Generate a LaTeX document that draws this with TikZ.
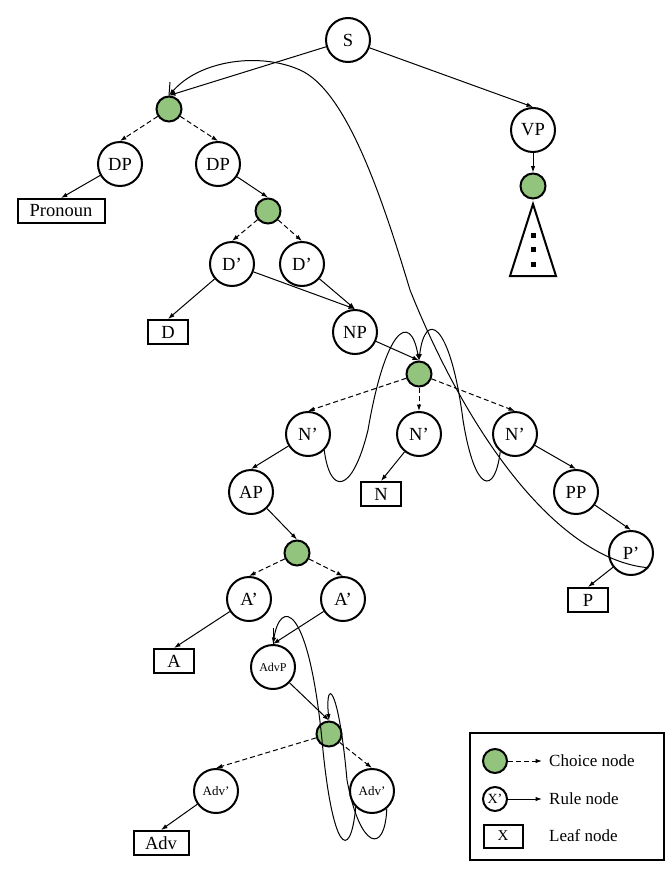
\documentclass[tikz,border=0pt]{standalone}
\usepackage{fontspec}
\setmainfont{Liberation Serif}
\usetikzlibrary{arrows, arrows.meta, positioning}
\definecolor{choicegreen}{RGB}{147,196,125}
\tikzstyle{rulenode} = [draw, circle, line width=2pt, minimum size=44pt, inner sep=0pt, font=\fontsize{18.5}{20}\selectfont]
\tikzstyle{smallrule} = [rulenode, font=\fontsize{13}{14}\selectfont]
\tikzstyle{choicenode} = [draw, circle, fill=choicegreen, line width=2pt, minimum size=25pt, inner sep=0pt]
\tikzstyle{leafnode} = [draw, rectangle, line width=2pt, minimum width=40pt, minimum height=24pt, inner sep=0pt, font=\fontsize{18.5}{20}\selectfont]
\tikzstyle{link} = [line width=1pt, -{Latex[length=6.5pt,width=4.5pt]}]
\tikzstyle{choicelink} = [link, dash pattern=on 5pt off 3pt]
\tikzstyle{backlink} = [line width=1pt]
\tikzstyle{legendtext} = [anchor=west, inner sep=0pt, font=\fontsize{17}{18}\selectfont]

\begin{document}
\begin{tikzpicture}[x=1pt, y=-1pt]
	\useasboundingbox (0,0) rectangle (671,873);
	% upper part
	\node[rulenode] (s) at (348,40) {S};
	\node[choicenode] (ch1) at (169,109) {};
	\node[rulenode] (dp1) at (120,164) {DP};
	\node[rulenode] (dp2) at (218,164) {DP};
	\node[leafnode, minimum width=87pt] (pron) at (61,211) {Pronoun};
	\node[choicenode] (ch2) at (268,211) {};
	\node[rulenode] (dbar1) at (232,264) {D’};
	\node[rulenode] (dbar2) at (302,264) {D’};
	\node[leafnode] (dleaf) at (168,332) {D};
	\node[rulenode] (np) at (355,332) {NP};
	\node[rulenode] (vp) at (533,130) {VP};
	\node[choicenode] (ch6) at (533,186) {};
	\draw[line width=2pt] (510,276) -- (533,204) -- (556,276) -- cycle;
	\foreach \y in {235,249,264}
		\fill (530.5,\y-2.5) rectangle (535.5,\y+2.5);
	% noun phrase
	\node[choicenode] (ch3) at (419,374) {};
	\node[rulenode] (nbar1) at (308,434) {N’};
	\node[rulenode] (nbar2) at (419,434) {N’};
	\node[rulenode] (nbar3) at (515,434) {N’};
	\node[leafnode] (nleaf) at (381,494) {N};
	\node[rulenode] (ap) at (251,492) {AP};
	\node[rulenode] (pp) at (576,492) {PP};
	\node[rulenode] (pbar) at (631,553) {P’};
	\node[leafnode] (pleaf) at (588,600) {P};
	\node[choicenode] (ch4) at (297,553) {};
	\node[rulenode] (abar1) at (249,599) {A’};
	\node[rulenode] (abar2) at (343,599) {A’};
	\node[leafnode] (aleaf) at (174,661) {A};
	\node[smallrule, font=\fontsize{12}{13}\selectfont] (advp) at (273,667) {AdvP};
	\node[choicenode] (ch5) at (329,734) {};
	\node[smallrule] (advbar1) at (216,791) {Adv’};
	\node[smallrule] (advbar2) at (372,791) {Adv’};
	\node[leafnode, minimum width=55pt] (advleaf) at (161,843) {Adv};

	\draw[link] (s) -- (ch1.north);
	\draw[link] (s) -- (vp.north);
	\draw[link] (vp) -- (ch6.north);
	\draw[choicelink] (ch1) -- (dp1.north);
	\draw[choicelink] (ch1) -- (dp2.north);
	\draw[link] (dp1) -- (pron.north);
	\draw[link] (dp2) -- (ch2.north);
	\draw[choicelink] (ch2) -- (dbar1.north);
	\draw[choicelink] (ch2) -- (dbar2.north);
	\draw[link] (dbar1) -- (dleaf.north);
	\draw[link] (dbar1) -- (np.north);
	\draw[link] (dbar2) -- (np.north);
	\draw[link] (np) -- (ch3.north);
	\draw[choicelink] (ch3) -- (nbar1.north);
	\draw[choicelink] (ch3) -- (nbar2.north);
	\draw[choicelink] (ch3) -- (nbar3.north);
	\draw[link] (nbar1) -- (ap.north);
	\draw[link] (nbar2) -- (nleaf.north);
	\draw[link] (nbar3) -- (pp.north);
	\draw[link] (pp) -- (pbar.north);
	\draw[link] (pbar) -- (pleaf.north);
	\draw[link] (ap) -- (ch4.north);
	\draw[choicelink] (ch4) -- (abar1.north);
	\draw[choicelink] (ch4) -- (abar2.north);
	\draw[link] (abar1) -- (aleaf.north);
	\draw[link] (abar2) -- (advp.north);
	\draw[link] (advp) -- (ch5.north);
	\draw[choicelink] (ch5) -- (advbar1.north);
	\draw[choicelink] (ch5) -- (advbar2.north);
	\draw[link] (advbar1) -- (advleaf.north);

	% recursion curves
	\coordinate (tick1) at (170,82);
	\coordinate (tick2) at (273,628);
	\draw[backlink] (tick1) -- (ch1.north);
	\draw[backlink] (tick2) -- (advp.north);
	\draw[link] (pbar.-40) .. controls (560,560) and (470,440) .. (410,290)
		.. controls (380,190) and (345,90) .. (300,70)
		.. controls (260,52) and (200,60) .. (ch1.north);
	\draw[link] (nbar1.-45) .. controls (330,495) and (352,495) .. (368,430)
		.. controls (385,330) and (410,310) .. (ch3.north);
	\draw[link] (nbar3.-130) .. controls (495,495) and (475,495) .. (463,420)
		.. controls (450,320) and (425,310) .. (ch3.north);
	\draw[link] (advbar2.south west) .. controls (350,865) and (332,850) .. (322,740)
		.. controls (308,600) and (280,600) .. (advp.north);
	\draw[link] (advbar2.-50) .. controls (385,855) and (360,850) .. (347,780)
		.. controls (338,680) and (325,680) .. (ch5.north);

	% legend
	\node[draw, line width=1.2pt, minimum width=194pt, minimum height=127pt] (legend) at (567,796.5) {};
	\node[choicenode, minimum size=24pt] (lchoice) at (495,761) {};
	\node[rulenode, minimum size=24pt, font=\fontsize{14}{15}\selectfont] (lrule) at (495,799) {X’};
	\node[leafnode, minimum width=39pt, minimum height=23pt, font=\fontsize{15}{16}\selectfont] (lleaf) at (503,836) {X};
	\coordinate (lchoiceend) at (542,761);
	\coordinate (lruleend) at (542,799);
	\draw[choicelink] (lchoice) -- (lchoiceend);
	\draw[link] (lrule) -- (lruleend);
	\node[legendtext] (lchoicetext) at (549,761) {Choice node};
	\node[legendtext] (lruletext) at (549,799) {Rule node};
	\node[legendtext] (lleaftext) at (549,836) {Leaf node};
\end{tikzpicture}
\end{document}
